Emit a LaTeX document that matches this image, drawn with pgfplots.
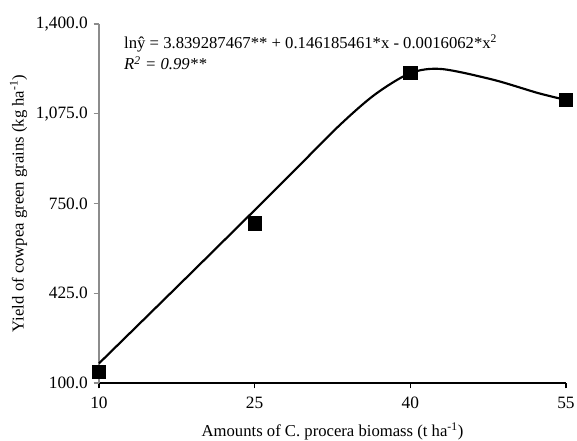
\documentclass[border=0pt]{standalone}
\usepackage{pgfplots}
\pgfplotsset{compat=1.18}
\usepackage{fontspec}
\setmainfont{Liberation Serif}
\begin{document}
\fontsize{12.5}{14}\selectfont
\begin{tikzpicture}
\path[use as bounding box] (-74.25pt,-42.75pt) rectangle (358.5pt,287.25pt);
\begin{axis}[
  at={(0pt,0pt)}, anchor=south west,
  scale only axis,
  width=350.25pt, height=269.25pt,
  xmin=10, xmax=55, ymin=100, ymax=1400,
  axis x line=bottom, axis y line=left,
  x axis line style={-, black, line width=0.9pt},
  y axis line style={-, black!45, line width=0.9pt},
  xtick={10,25,40,55}, ytick={100,425,750,1075,1400},
  tick align=outside, major tick length=4pt,
  x tick style={black, line width=0.8pt},
  y tick style={black!45, line width=0.8pt},
  /pgf/number format/assume math mode=true,
  yticklabel style={/pgf/number format/.cd, fixed, fixed zerofill, precision=1, 1000 sep={,}},
  xticklabel style={/pgf/number format/.cd, fixed, /tikz/.cd, yshift=-2pt},
  ticklabel style={font=\fontsize{13}{15}\selectfont},
  xlabel={Amounts of C. procera biomass (t ha\textsuperscript{-1})},
  ylabel={Yield of cowpea green grains (kg ha\textsuperscript{-1})},
  label style={font=\fontsize{12.5}{14}\selectfont},
  xlabel style={yshift=-2.5pt},
  ylabel style={yshift=-2pt},
  clip=false,
]
\addplot[black, line width=1.6pt, smooth, tension=0.5, no marks] coordinates {
  (10,171) (18,466) (25,726) (29,876) (33.2,1034)
  (36.6,1145) (40,1222) (43,1237)
  (48,1198) (52.3,1150) (55,1125)
};
\addplot[only marks, mark=square*, mark size=5pt, black] coordinates {
  (10,140) (25,679) (40,1224) (55,1125)
};
\node[anchor=base west, inner sep=0pt, font=\fontsize{12.5}{14}\selectfont] at (rel axis cs:0.0535,0.933)
  {lnŷ = 3.839287467** + 0.146185461*x - 0.0016062*x\textsuperscript{2}};
\node[anchor=base west, inner sep=0pt, font=\fontsize{12.5}{14}\selectfont\itshape] at (rel axis cs:0.0535,0.872)
  {R\textsuperscript{2} = 0.99**};
\end{axis}
\end{tikzpicture}
\end{document}
